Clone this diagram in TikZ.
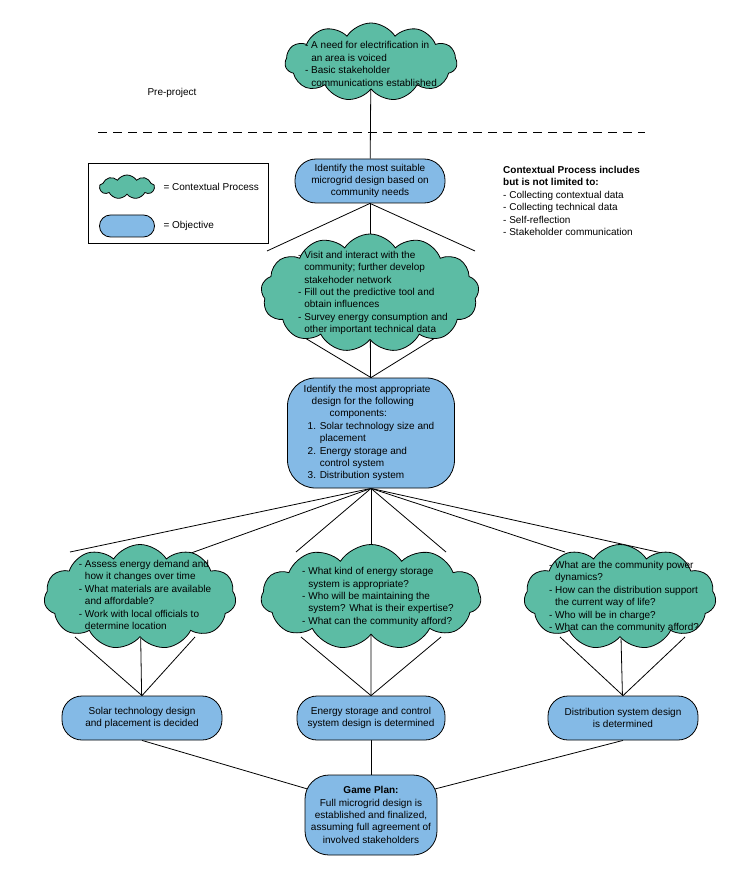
\documentclass[tikz,border=0pt]{standalone}
\usepackage{fontspec}
\setmainfont{Liberation Sans}
\usetikzlibrary{shapes.symbols,backgrounds,calc}
\definecolor{teal1}{RGB}{92,188,164}
\definecolor{blue1}{RGB}{132,186,230}
\newcommand{\cn}{\phantom{- }}
\begin{document}
\begin{tikzpicture}[x=1pt,y=-1pt,
  every node/.style={font=\fontsize{10}{12.4}\selectfont},
  ctx/.style={cloud, cloud ignores aspect, cloud puffs=11, cloud puff arc=115, draw=black, fill=teal1, line width=0.8pt, inner sep=0pt},
  ctxt/.style={align=left, inner sep=0pt},
  obj/.style={rounded corners=20pt, draw=black, fill=blue1, line width=0.8pt, align=center},
  ln/.style={line width=0.8pt}]
\useasboundingbox (0,0) rectangle (750,877);
% top cloud
\node[ctx, minimum width=172pt, minimum height=78pt] (c0) at (371,62) {};
\node[ctxt] (t0) at (371,64) {- A need for electrification in\\\cn an area is voiced\\- Basic stakeholder\\\cn communications established};
\node (pre) at (172,93) {Pre-project};
\coordinate (d1) at (98,132); \coordinate (d2) at (645,132);
\draw[ln, dash pattern=on 9pt off 6pt] (d1) -- (d2);
% legend
\node[draw=black, line width=0.8pt, minimum width=180pt, minimum height=80pt] (leg) at (178,203) {};
\node[ctx, minimum width=55pt, minimum height=24pt, cloud puffs=9] (lc) at (127,187) {};
\node[anchor=west] (lct) at (160,187) {= Contextual Process};
\node[obj, minimum width=55pt, minimum height=22pt, rounded corners=11pt] (lo) at (127,226) {};
\node[anchor=west] (lot) at (160,226) {= Objective};
% note
\node[anchor=north west, align=left, inner sep=0pt] (note) at (503,166) {\textbf{Contextual Process includes}\\\textbf{but is not limited to:}\\- Collecting contextual data\\- Collecting technical data\\- Self-reflection\\- Stakeholder communication};
% objective 1
\node[obj, minimum width=150pt, minimum height=44pt, rounded corners=21pt] (o1) at (370,181) {Identify the most suitable\\microgrid design based on\\community needs};
% cloud 2
\node[ctx, minimum width=218pt, minimum height=118pt, cloud puffs=13] (c2) at (370,293) {};
\node[ctxt] (t2) at (373,293) {- Visit and interact with the\\\cn community; further develop\\\cn stakehoder network\\- Fill out the predictive tool and\\\cn obtain influences\\- Survey energy consumption and\\\cn other important technical data};
% objective 2
\node[obj, minimum width=167pt, minimum height=110pt, rounded corners=28pt, align=left] (o2) at (371,433) {\hspace*{-4pt}Identify the most appropriate\\\hspace*{4pt}design for the following\\\hspace*{22pt}components:\\1. Solar technology size and\\\phantom{1. }placement\\2. Energy storage and\\\phantom{1. }control system\\3. Distribution system};
% clouds row
\node[ctx, minimum width=192pt, minimum height=105pt] (cl) at (140,597) {};
\node[ctxt] (tl) at (145,595) {- Assess energy demand and\\\cn how it changes over time\\- What materials are available\\\cn and affordable?\\- Work with local officials to\\\cn determine location};
\node[ctx, minimum width=220pt, minimum height=105pt] (cm) at (371,597) {};
\node[ctxt] (tm) at (378,597) {- What kind of energy storage\\\cn system is appropriate?\\- Who will be maintaining the\\\cn system? What is their expertise?\\- What can the community afford?};
\node[ctx, minimum width=192pt, minimum height=105pt] (cr) at (620,597) {};
\node[ctxt] (tr) at (624,597) {- What are the community power\\\cn dynamics?\\- How can the distribution support\\\cn the current way of life?\\- Who will be in charge?\\- What can the community afford?};
% result nodes
\node[obj, minimum width=160pt, minimum height=44pt] (ol) at (142,718) {Solar technology design\\and placement is decided};
\node[obj, minimum width=148pt, minimum height=44pt] (om) at (371,718) {Energy storage and control\\system design is determined};
\node[obj, minimum width=150pt, minimum height=44pt] (or) at (623,718) {Distribution system design\\is determined};
\node[obj, minimum width=132pt, minimum height=80pt, rounded corners=24pt] (gp) at (371,815) {\textbf{Game Plan:}\\Full microgrid design is\\established and finalized,\\assuming full agreement of\\involved stakeholders};
% connectors
\begin{scope}[on background layer]
\draw[ln] (c0) -- (o1);
\draw[ln] (o1.south) -- ($(c2.center)+(-103,-42)$);
\draw[ln] (o1.south) -- (c2);
\draw[ln] (o1.south) -- ($(c2.center)+(105,-42)$);
\draw[ln] ($(c2.center)+(-65,45)$) -- (o2.north);
\draw[ln] (c2) -- (o2);
\draw[ln] ($(c2.center)+(65,45)$) -- (o2.north);
\draw[ln] (o2.south) -- ($(cl.center)+(-70,-45)$);
\draw[ln] (o2.south) -- ($(cl.center)+(40,-40)$);
\draw[ln] (o2.south) -- ($(cm.center)+(-75,-45)$);
\draw[ln] (o2.south) -- (cm);
\draw[ln] (o2.south) -- ($(cm.center)+(75,-45)$);
\draw[ln] (o2.south) -- ($(cr.center)+(-55,-45)$);
\draw[ln] (o2.south) -- ($(cr.center)+(60,-40)$);
\draw[ln] ($(cl.center)+(-65,40)$) -- (ol.north);
\draw[ln] (cl) -- (ol);
\draw[ln] ($(cl.center)+(55,40)$) -- (ol.north);
\draw[ln] ($(cm.center)+(-70,40)$) -- (om.north);
\draw[ln] (cm) -- (om);
\draw[ln] ($(cm.center)+(70,40)$) -- (om.north);
\draw[ln] ($(cr.center)+(-60,40)$) -- (or.north);
\draw[ln] (cr) -- (or);
\draw[ln] ($(cr.center)+(65,40)$) -- (or.north);
\draw[ln] (ol.south) -- ($(gp.center)+(-60,-25)$);
\draw[ln] (om) -- (gp);
\draw[ln] (or.south) -- ($(gp.center)+(60,-25)$);
\end{scope}
\end{tikzpicture}
\end{document}
